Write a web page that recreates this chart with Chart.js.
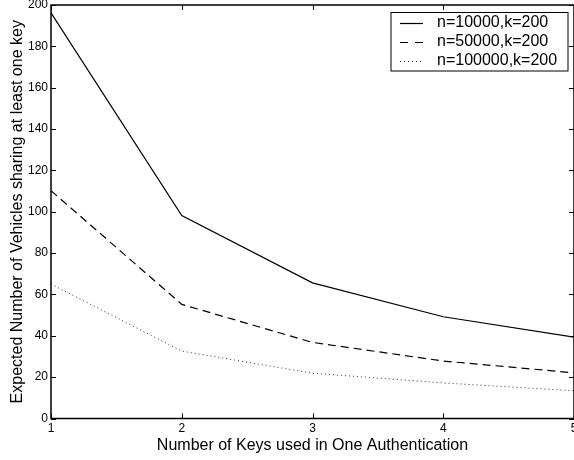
<!DOCTYPE html>
<html>
<head>
<meta charset="utf-8">
<script src="https://cdn.jsdelivr.net/npm/chart.js@4/dist/chart.umd.min.js"></script>
<style>
html, body { margin: 0; padding: 0; background: #fff; overflow: hidden; }
#wrap { width: 590px; height: 460px; }
</style>
</head>
<body>
<div id="wrap"><canvas id="c" width="590" height="460"></canvas></div>
<script>
const keys = [1, 2, 3, 4, 5];
const n10000 = [196.2, 98.2, 65.6, 49.2, 39.4];
const n50000 = [110.2, 55.2, 36.8, 27.8, 22.1];
const n100000 = [65.0, 32.6, 21.9, 17.2, 13.4];
const seriesLabels = ['n=10000,k=200', 'n=50000,k=200', 'n=100000,k=200'];
const xTickValues = [1, 2, 3, 4, 5];
const yTickValues = [0, 20, 40, 60, 80, 100, 120, 140, 160, 180, 200];
const xTitle = 'Number of Keys used in One Authentication';
const yTitle = 'Expected Number of Vehicles sharing at least one key';

const FONT = '"Liberation Sans", Arial, Helvetica, sans-serif';

function pts(vals) { return keys.map((k, i) => ({ x: k, y: vals[i] })); }

const framePlugin = {
  id: 'frame',
  afterDatasetsDraw(chart) {
    const { ctx, chartArea: a, scales } = chart;
    const xs = scales.x, ys = scales.y;
    ctx.save();
    ctx.strokeStyle = '#000';
    ctx.lineWidth = 1;
    const tl = 5;
    ctx.beginPath();
    yTickValues.forEach(v => {
      const py = Math.round(ys.getPixelForValue(v)) + 0.5;
      ctx.moveTo(a.left, py); ctx.lineTo(a.left + tl, py);
      ctx.moveTo(a.right, py); ctx.lineTo(a.right - tl, py);
    });
    xTickValues.forEach(v => {
      const px = Math.round(xs.getPixelForValue(v)) + 0.5;
      ctx.moveTo(px, a.bottom); ctx.lineTo(px, a.bottom - tl);
      ctx.moveTo(px, a.top); ctx.lineTo(px, a.top + tl);
    });
    ctx.stroke();
    ctx.lineWidth = 1.5;
    ctx.strokeRect(a.left, a.top, a.right - a.left, a.bottom - a.top);
    ctx.restore();
  },
  afterDraw(chart) {
    const { ctx } = chart;
    const bx = 391, by = 12.5, bw = 177, bh = 58.5;
    ctx.save();
    ctx.fillStyle = '#fff';
    ctx.fillRect(bx, by, bw, bh);
    ctx.strokeStyle = '#000';
    ctx.lineWidth = 1;
    ctx.strokeRect(bx, by, bw, bh);
    ctx.font = '16px ' + FONT;
    ctx.textBaseline = 'middle';
    ctx.textAlign = 'left';
    ctx.fillStyle = '#000';
    chart.data.datasets.forEach((ds, i) => {
      const cy = 22.5 + i * 19;
      ctx.beginPath();
      ctx.setLineDash(ds.legendDash || []);
      ctx.lineWidth = ds.borderWidth;
      ctx.strokeStyle = ds.borderColor;
      ctx.moveTo(400, Math.round(cy) + 0.5);
      ctx.lineTo(423, Math.round(cy) + 0.5);
      ctx.stroke();
      ctx.setLineDash([]);
      ctx.fillText(ds.label, 437, cy + 0.5);
    });
    ctx.restore();
  }
};

new Chart(document.getElementById('c'), {
  type: 'line',
  data: {
    datasets: [
      { label: seriesLabels[0], data: pts(n10000), borderColor: '#000', borderWidth: 1.2, pointRadius: 0, tension: 0, fill: false, legendDash: [] },
      { label: seriesLabels[1], data: pts(n50000), borderColor: '#000', borderWidth: 1.2, borderDash: [8, 5], pointRadius: 0, tension: 0, fill: false, legendDash: [8, 7] },
      { label: seriesLabels[2], data: pts(n100000), borderColor: '#333', borderWidth: 1, borderDash: [1, 3], pointRadius: 0, tension: 0, fill: false, legendDash: [1, 3] }
    ]
  },
  options: {
    responsive: false,
    animation: false,
    layout: { padding: { left: 0, right: 16, top: 5, bottom: 0 } },
    plugins: { legend: { display: false }, tooltip: { enabled: false } },
    scales: {
      x: {
        type: 'linear', min: 1, max: 5,
        afterBuildTicks: s => { s.ticks = xTickValues.map(v => ({ value: v })); },
        afterFit: s => { s.height = 41.5; s.paddingLeft = 0; s.paddingRight = 0; },
        grid: { display: false, drawTicks: false },
        border: { display: false },
        ticks: { color: '#000', font: { size: 12, family: FONT }, padding: 3, maxRotation: 0, autoSkip: false },
        title: { display: true, text: xTitle, color: '#000', font: { size: 16, family: FONT }, padding: { top: 0, bottom: 5 } }
      },
      y: {
        type: 'linear', min: 0, max: 200,
        afterBuildTicks: s => { s.ticks = yTickValues.map(v => ({ value: v })); },
        afterFit: s => { s.width = 51; s.paddingTop = 0; s.paddingBottom = 0; },
        grid: { display: false, drawTicks: false },
        border: { display: false },
        ticks: { color: '#000', font: { size: 12, family: FONT }, padding: 3, autoSkip: false },
        title: { display: true, text: yTitle, color: '#000', font: { size: 16, family: FONT }, padding: { top: 8, bottom: 0 } }
      }
    }
  },
  plugins: [framePlugin]
});
</script>
</body>
</html>
